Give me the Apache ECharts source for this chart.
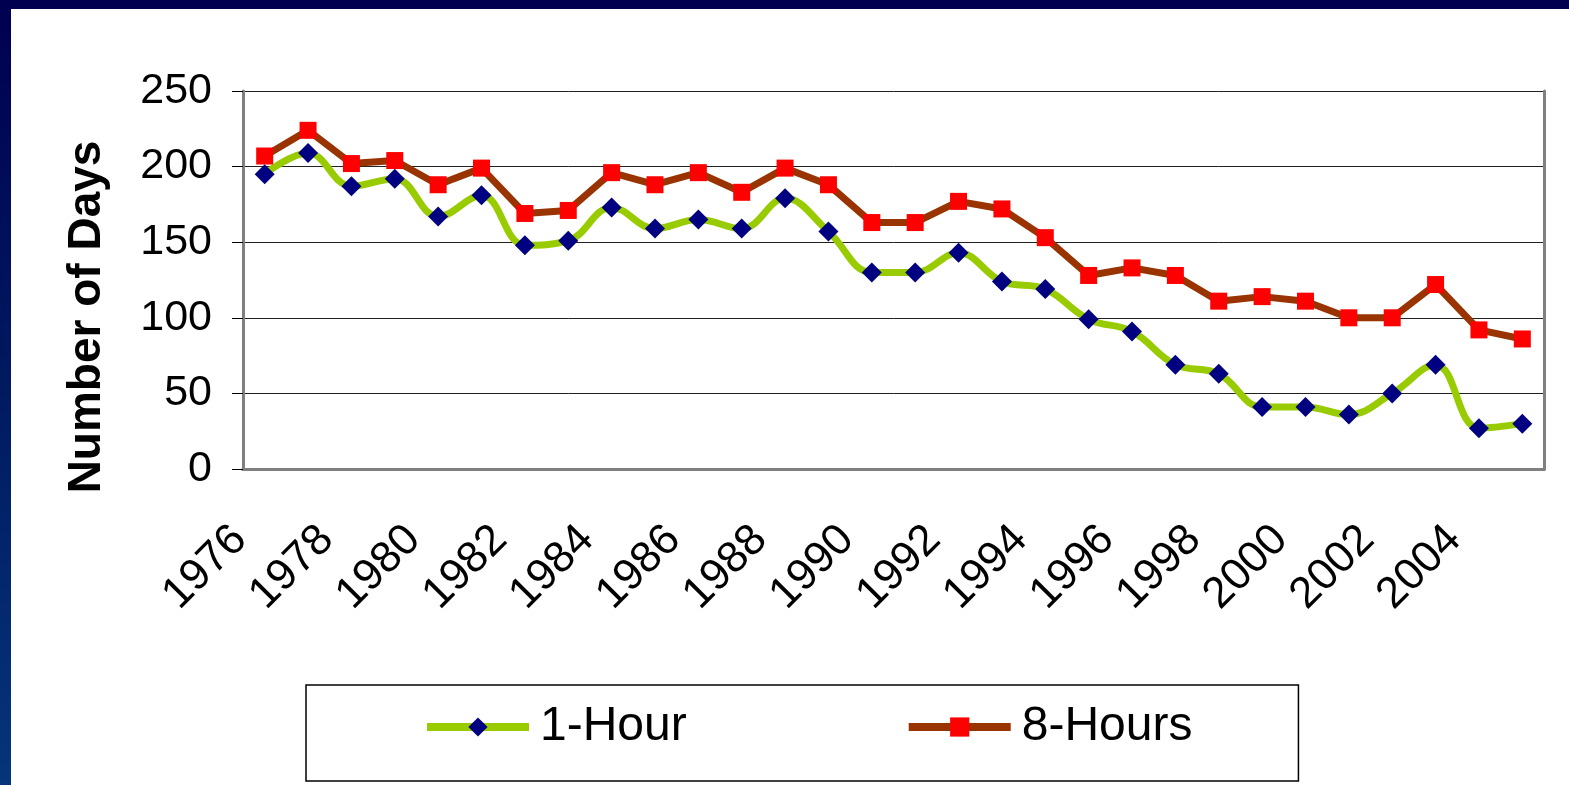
<!DOCTYPE html>
<html>
<head>
<meta charset="utf-8">
<script src="https://cdn.jsdelivr.net/npm/echarts@6/dist/echarts.min.js"></script>
<style>
  html, body { margin:0; padding:0; width:1569px; height:785px; overflow:hidden; }
  body { background:linear-gradient(to bottom, #000050 0%, #001a60 50%, #06357a 100%); position:relative; }
  #paper { position:absolute; left:11px; top:9px; right:0; bottom:0; background:#fff; }
  #chart { position:absolute; left:0; top:0; width:1569px; height:785px; }
</style>
</head>
<body>
<div id="paper"></div>
<div id="chart"></div>
<script>
// Days per year over the standard, 1976-2005
var YEARS = ['1976','1977','1978','1979','1980','1981','1982','1983','1984','1985',
             '1986','1987','1988','1989','1990','1991','1992','1993','1994','1995',
             '1996','1997','1998','1999','2000','2001','2002','2003','2004','2005'];
var ONE_HOUR = [195,209,187,192,167,181,148,151,173,159,
                165,159,179,157,130,130,143,124,119,99,
                91,69,63,41,41,36,50,69,27,30];
var EIGHT_HOURS = [207,224,202,204,188,199,169,171,196,188,
                   196,183,199,188,163,163,177,172,153,128,
                   133,128,111,114,111,100,100,122,92,86];
var Y_TICKS = [0, 50, 100, 150, 200, 250];

(function(){
  var chart = echarts.init(document.getElementById('chart'), null, {renderer:'canvas'});
  var FONT = '"Liberation Sans", Arial, sans-serif';
  var GRAY = '#808080';

  var option = {
    backgroundColor:'transparent',
    animation:false,
    grid:{ left:243, right:25, top:91, bottom:316, containLabel:false },
    legend:{
      left:306, top:685,
      padding:[18,106,30,117],
      borderColor:'#000', borderWidth:1.5, backgroundColor:'#fff',
      itemWidth:102, itemHeight:24, itemGap:218,
      lineStyle:{ width:8 },
      textStyle:{ fontFamily:FONT, fontSize:48, color:'#000', padding:[0,0,0,6] },
      data:['1-Hour','8-Hours']
    },
    graphic:[{
      type:'text', x:87, y:317, rotation:Math.PI/2,
      style:{ text:'Number of Days', fontFamily:FONT, fontSize:46, fontWeight:'bold',
              fill:'#000', align:'center', verticalAlign:'middle' }
    }],
    xAxis:[{
      type:'category', data:YEARS, boundaryGap:true,
      axisLine:{ lineStyle:{ color:GRAY, width:3 } },
      axisTick:{ interval:0, length:15, lineStyle:{ color:'#000', width:1 } },
      axisLabel:{ interval:1, rotate:45, margin:39, padding:[0,35,0,0],
                  fontFamily:FONT, fontSize:44, color:'#000' },
      splitLine:{ show:false }
    },{
      type:'category', data:YEARS, position:'top', boundaryGap:true,
      axisLine:{ lineStyle:{ color:GRAY, width:3 } },
      axisTick:{ show:false }, axisLabel:{ show:false }, splitLine:{ show:false }
    }],
    yAxis:[{
      type:'value', min:Y_TICKS[0], max:Y_TICKS[Y_TICKS.length-1], interval:50,
      axisLine:{ show:true, lineStyle:{ color:GRAY, width:3 } },
      axisTick:{ show:true, length:11, lineStyle:{ color:'#000', width:1 } },
      axisLabel:{ margin:31, fontFamily:FONT, fontSize:43, color:'#000' },
      splitLine:{ show:true, lineStyle:{ color:'#222', width:1 } }
    },{
      type:'value', position:'right', min:0, max:250, interval:50,
      axisLine:{ show:true, lineStyle:{ color:GRAY, width:3 } },
      axisTick:{ show:false }, axisLabel:{ show:false }, splitLine:{ show:false }
    }],
    series:[{
      name:'1-Hour', type:'line', data:ONE_HOUR, smooth:0.4,
      symbol:'diamond', symbolSize:20, showAllSymbol:true,
      lineStyle:{ color:'#99cc00', width:7 },
      itemStyle:{ color:'#000080', borderWidth:0 },
      z:3
    },{
      name:'8-Hours', type:'line', data:EIGHT_HOURS,
      symbol:'rect', symbolSize:17, showAllSymbol:true,
      lineStyle:{ color:'#993300', width:7 },
      itemStyle:{ color:'#ff0000', borderWidth:0 },
      z:4
    }]
  };

  chart.setOption(option);
  window.addEventListener('resize', function(){ chart.resize(); });
})();
</script>
</body>
</html>
